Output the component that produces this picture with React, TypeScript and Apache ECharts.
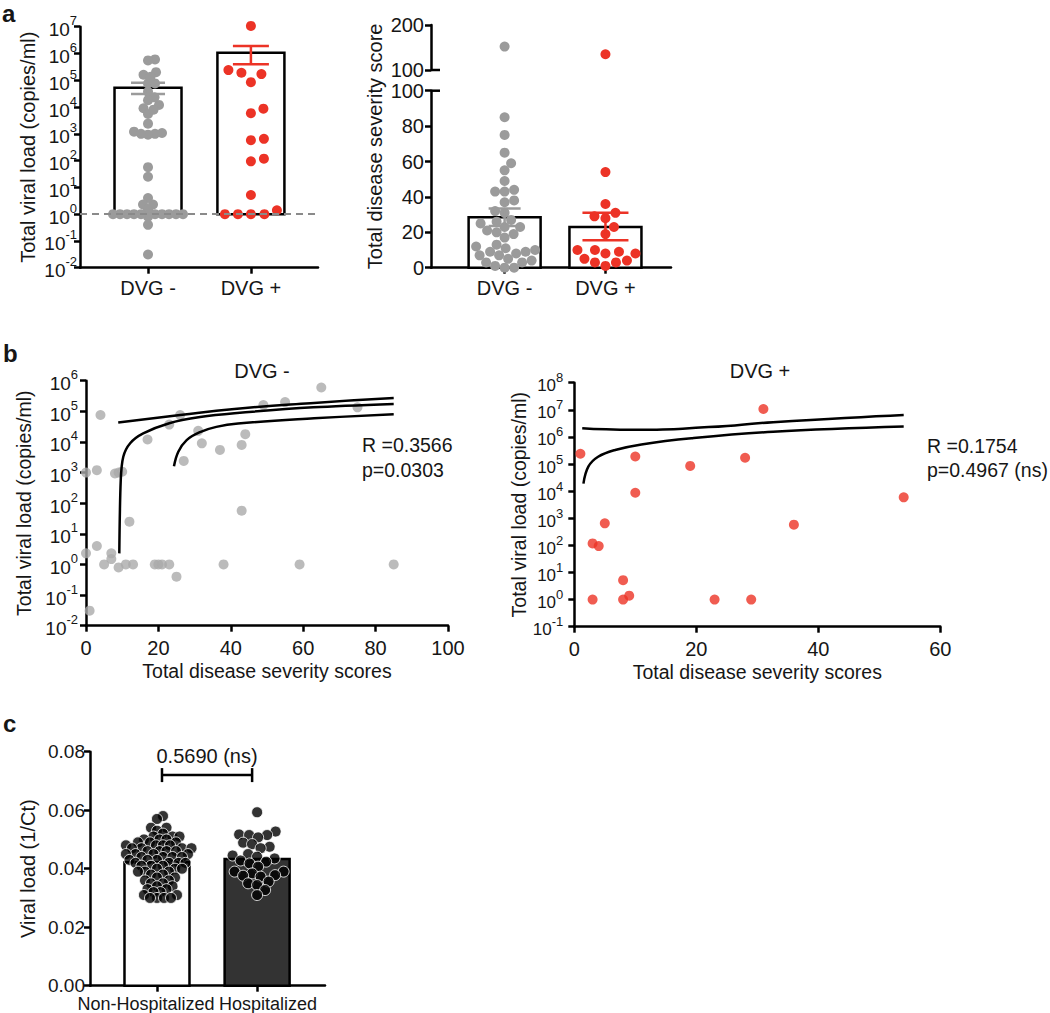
import React, { useEffect, useRef } from 'react';
import * as echarts from 'echarts';

const FF = '"Liberation Sans", Arial, Helvetica, sans-serif';
const INK = '#161616';
const GREY = '#9b9b9b';
const GREY_B = '#aaaaaa';
const RED = '#ec3326';
const DARK = '#333333';

// ---------------- data ----------------
const groupNames = ['DVG -', 'DVG +'];
const hospNames = ['Non-Hospitalized', 'Hospitalized'];

// DVG- : severity score and total viral load per patient
const negScore = [4, 0, 3, 8, 9, 10, 0, 3, 5, 7, 7, 9, 11, 13, 12, 1, 17, 23, 26, 27, 31, 32, 37, 43, 44, 43, 19, 20, 21, 23, 25, 38, 49, 55, 65, 75, 59, 85];
const negLoad = [7.6e4, 1000, 1200, 930, 1000, 1070, 2.3, 4, 1, 2.3, 1.5, 0.8, 1, 1, 25, 0.031, 1.2e4, 3.7e4, 7.6e4, 2.4e3, 2.3e4, 9e3, 5.5e3, 8e3, 1.8e4, 57, 1, 1, 1, 1, 0.4, 1, 1.6e5, 2e5, 6e5, 1.35e5, 1, 1];
const negExtraScore = [152];
const negExtraLoad = [5.5e5];
// DVG+
const posScore = [1, 10, 19, 28, 31, 10, 54, 5, 36, 3, 4, 8, 8, 9, 3, 23, 29];
const posLoad = [2.4e5, 1.9e5, 8.5e4, 1.7e5, 1.07e7, 8.7e3, 5.9e3, 650, 580, 118, 94, 5.2, 1, 1.4, 1, 1, 1];
const posExtraScore = [135];

const loadMean = [5.3e4, 1.07e6];
const loadSemLow = [3.1e4, 4.0e5];
const loadSemHigh = [8.0e4, 1.9e6];
const scoreMean = [28.5, 23];
const scoreSemLow = [23.5, 15.5];
const scoreSemHigh = [33.5, 31];

// regression curves
const negFitX = [9.2, 9.6, 10.3, 12.2, 15.8, 23, 31.5, 41, 62.8, 85];
const negFitY = [2.3, 570, 3300, 9100, 1.9e4, 4.1e4, 6.5e4, 8.7e4, 1.35e5, 1.74e5];
const negUpX = [8.9, 26, 41, 62, 85];
const negUpY = [4.3e4, 7.6e4, 1.2e5, 1.85e5, 2.7e5];
const negLoX = [24.3, 25.5, 27.8, 31.5, 36, 42, 63, 85];
const negLoY = [1.6e3, 4.8e3, 1.15e4, 2.1e4, 3.1e4, 4.0e4, 5.9e4, 8.1e4];
const posFitX = [1.5, 2.3, 3.9, 6.7, 11, 19.2, 32.6, 54];
const posFitY = [1.9e4, 8.0e4, 1.85e5, 3.3e5, 5.3e5, 8.9e5, 1.55e6, 2.4e6];
const posUpX = [1.3, 10, 22, 32.6, 54];
const posUpY = [2.1e6, 1.85e6, 2.3e6, 3.5e6, 6.5e6];

const statsNeg = ['R =0.3566', 'p=0.0303'];
const statsPos = ['R =0.1754', 'p=0.4967 (ns)'];

// panel c
const nonHosp = [0.058, 0.057, 0.054, 0.054, 0.053, 0.052, 0.051, 0.051, 0.051, 0.050, 0.050, 0.050, 0.049, 0.049, 0.049, 0.048, 0.048, 0.048, 0.048, 0.047, 0.047, 0.047, 0.047, 0.046, 0.046, 0.046, 0.046, 0.045, 0.045, 0.045, 0.045, 0.044, 0.044, 0.044, 0.044, 0.043, 0.043, 0.043, 0.042, 0.042, 0.042, 0.042, 0.041, 0.041, 0.041, 0.040, 0.040, 0.040, 0.039, 0.039, 0.039, 0.038, 0.038, 0.037, 0.037, 0.036, 0.036, 0.035, 0.035, 0.034, 0.034, 0.033, 0.033, 0.032, 0.032, 0.031, 0.031, 0.030, 0.030, 0.030, 0.030];
const hosp = [0.0593, 0.0527, 0.0517, 0.0515, 0.0515, 0.0507, 0.0489, 0.0484, 0.0475, 0.047, 0.045, 0.0445, 0.0441, 0.0435, 0.0428, 0.0424, 0.0418, 0.0407, 0.039, 0.039, 0.0384, 0.0378, 0.0376, 0.0373, 0.0356, 0.035, 0.0344, 0.0327, 0.031];
const hospMean = [0.0422, 0.0433];
const hospP = '0.5690 (ns)';
const hospBracketY = 0.072;

// ---------------- helpers ----------------
const AX_LINE = { show: true, onZero: false, lineStyle: { color: '#000', width: 2.5 } };
const AX_TICK = { show: true, length: 6, lineStyle: { color: '#000', width: 2.5 } };

function logAxis(grid: number, min: number, max: number, size: number, sup: number, raise: number, margin: number, extra: any = {}) {
  return {
    gridIndex: grid, type: 'log', logBase: 10, min, max,
    axisLine: AX_LINE, axisTick: AX_TICK, splitLine: { show: false }, minorTick: { show: false },
    axisLabel: {
      margin,
      formatter: (v: number) => `{b|10}{s|${Math.round(Math.log10(v))}}`,
      rich: {
        b: { fontSize: size, fontFamily: FF, color: INK, lineHeight: size + 6, verticalAlign: 'bottom' },
        s: { fontSize: sup, fontFamily: FF, color: INK, lineHeight: raise, verticalAlign: 'top' },
      },
    },
    ...extra,
  };
}

function catXAxis(grid: number, min: number, max: number, names: string[], size: number, margin: number, extra: any = {}) {
  return {
    gridIndex: grid, type: 'value', min, max,
    axisLine: AX_LINE, splitLine: { show: false },
    axisTick: { ...AX_TICK, customValues: [1, 2] },
    axisLabel: {
      customValues: [1, 2], margin, fontSize: size, fontFamily: FF, color: INK,
      formatter: (v: number) => names[Math.round(v) - 1] ?? '',
    },
    ...extra,
  };
}

function barRender(base: number, halfW: number, fills: string[]) {
  return (params: any, api: any) => {
    const x = api.value(0), m = api.value(1);
    const top = api.coord([x, m]);
    const bot = api.coord([x, base]);
    return {
      type: 'rect',
      shape: { x: top[0] - halfW, y: top[1], width: halfW * 2, height: bot[1] - top[1] },
      style: { fill: fills[params.dataIndex], stroke: '#000', lineWidth: 2.5 },
    };
  };
}

function errRender(halfCaps: number[], colors: string[]) {
  return (params: any, api: any) => {
    const x = api.value(0), lo = api.value(1), hi = api.value(2);
    const a = api.coord([x, lo]), b = api.coord([x, hi]);
    const h = halfCaps[params.dataIndex];
    const st = { stroke: colors[params.dataIndex], lineWidth: 2.5 };
    return {
      type: 'group', children: [
        { type: 'line', shape: { x1: a[0], y1: a[1], x2: b[0], y2: b[1] }, style: st },
        { type: 'line', shape: { x1: a[0] - h, y1: a[1], x2: a[0] + h, y2: a[1] }, style: st },
        { type: 'line', shape: { x1: b[0] - h, y1: b[1], x2: b[0] + h, y2: b[1] }, style: st },
      ],
    };
  };
}

function curve(id: string, xi: number, yi: number, xs: number[], ys: number[], smooth = 0.5) {
  return {
    id, type: 'line', xAxisIndex: xi, yAxisIndex: yi, data: xs.map((x, i) => [x, ys[i]]),
    showSymbol: false, symbol: 'none', smooth,
    lineStyle: { color: '#000', width: 2.5 }, z: 4, clip: false,
  };
}

const aLeftNeg = negLoad.concat(negExtraLoad);
const aRightNeg = negScore.concat(negExtraScore);
const aRightPos = posScore.concat(posExtraScore);

const XR_AL: [number, number] = [0.339, 2.652];
const XR_AR: [number, number] = [0.27, 2.65];
const XR_C: [number, number] = [0.331, 2.678];

function buildOption() {
  const grids = [
    { left: 80, top: 26.7, width: 238, height: 241 },
    { left: 431, top: 90.7, width: 240, height: 177 },
    { left: 431, top: 25, width: 240, height: 45 },
    { left: 86, top: 380.7, width: 362, height: 245 },
    { left: 574.3, top: 382.7, width: 366, height: 244 },
    { left: 90, top: 751.7, width: 235, height: 234 },
  ].map((g) => ({ ...g, outerBoundsMode: 'none', containLabel: false }));

  const nameStyle = (size: number) => ({ fontSize: size, fontFamily: FF, color: INK });

  const xAxis = [
    catXAxis(0, XR_AL[0], XR_AL[1], groupNames, 20, 10),
    catXAxis(1, XR_AR[0], XR_AR[1], groupNames, 20, 10),
    { gridIndex: 2, type: 'value', min: XR_AR[0], max: XR_AR[1], show: false },
    {
      gridIndex: 3, type: 'value', min: 0, max: 100, interval: 20,
      axisLine: AX_LINE, axisTick: AX_TICK, splitLine: { show: false },
      axisLabel: { fontSize: 20, fontFamily: FF, color: INK, margin: 12 },
      name: 'Total disease severity scores', nameLocation: 'middle', nameGap: 35, nameTextStyle: nameStyle(19.5),
    },
    {
      gridIndex: 4, type: 'value', min: 0, max: 60, interval: 20,
      axisLine: AX_LINE, axisTick: AX_TICK, splitLine: { show: false },
      axisLabel: { fontSize: 20, fontFamily: FF, color: INK, margin: 12 },
      name: 'Total disease severity scores', nameLocation: 'middle', nameGap: 35, nameTextStyle: nameStyle(19.5),
    },
    {
      ...catXAxis(5, XR_C[0], XR_C[1], hospNames, 18, 9),
      axisLabel: {
        customValues: [1, 2], margin: 9, interval: 0, hideOverlap: false,
        formatter: (v: number) => (Math.round(v) === 1 ? `{l|${hospNames[0]}}` : `{r|${hospNames[1]}}`),
        rich: {
          l: { fontSize: 18, fontFamily: FF, color: INK, padding: [0, 22, 0, 0] },
          r: { fontSize: 18, fontFamily: FF, color: INK, padding: [0, 0, 0, 22] },
        },
      },
    },
  ];

  const yAxis = [
    logAxis(0, 0.01, 1e7, 19, 13, 10, 3, {
      name: 'Total viral load (copies/ml)', nameLocation: 'middle', nameGap: 42, nameTextStyle: nameStyle(20),
    }),
    {
      gridIndex: 1, type: 'value', min: 0, max: 100, interval: 20,
      axisLine: AX_LINE, axisTick: AX_TICK, splitLine: { show: false },
      axisLabel: { fontSize: 20, fontFamily: FF, color: INK, margin: 7 },
    },
    {
      gridIndex: 2, type: 'value', min: 100, max: 200, interval: 100,
      axisLine: AX_LINE, axisTick: AX_TICK, splitLine: { show: false },
      axisLabel: { fontSize: 20, fontFamily: FF, color: INK, margin: 7 },
    },
    logAxis(3, 0.01, 1e6, 19, 13, 10, 8, {
      name: 'Total viral load (copies/ml)', nameLocation: 'middle', nameGap: 52, nameTextStyle: nameStyle(19.5),
    }),
    logAxis(4, 0.1, 1e8, 17, 13, 12, 11, {
      name: 'Total viral load (copies/ml)', nameLocation: 'middle', nameGap: 45, nameTextStyle: nameStyle(19.5),
    }),
    {
      gridIndex: 5, type: 'value', min: 0, max: 0.08, interval: 0.02,
      axisLine: AX_LINE, axisTick: AX_TICK, splitLine: { show: false },
      axisLabel: { fontSize: 19, fontFamily: FF, color: INK, margin: 5, formatter: (v: number) => v.toFixed(2) },
      name: 'Viral load (1/Ct)', nameLocation: 'middle', nameGap: 52, nameTextStyle: nameStyle(20),
    },
  ];

  const scat = (id: string, xi: number, yi: number, cx: number, vals: number[], color: string, size: number, extra: any = {}) => ({
    id, type: 'scatter', xAxisIndex: xi, yAxisIndex: yi, data: vals.map((v) => [cx, v]),
    symbolSize: size, itemStyle: { color, opacity: 1 }, z: 3, clip: false, ...extra,
  });

  const series: any[] = [
    // ----- panel a left -----
    {
      id: 'aL-bars', type: 'custom', xAxisIndex: 0, yAxisIndex: 0, z: 2,
      data: loadMean.map((m, i) => [i + 1, m]),
      renderItem: barRender(1, 33.5, ['#fff', '#fff']),
      markLine: {
        silent: true, symbol: ['none', 'none'], label: { show: false },
        lineStyle: { type: [7, 5], color: '#8a8a8a', width: 2 },
        data: [{ yAxis: 1 }],
      },
    },
    scat('aL-neg', 0, 0, 1, aLeftNeg, GREY, 10),
    scat('aL-pos', 0, 0, 2, posLoad, RED, 10),
    {
      id: 'aL-err', type: 'custom', xAxisIndex: 0, yAxisIndex: 0, z: 5,
      data: loadMean.map((_, i) => [i + 1, loadSemLow[i], loadSemHigh[i]]),
      renderItem: errRender([17, 18], [GREY, RED]),
    },
    // ----- panel a right -----
    {
      id: 'aR-bars', type: 'custom', xAxisIndex: 1, yAxisIndex: 1, z: 2,
      data: scoreMean.map((m, i) => [i + 1, m]),
      renderItem: barRender(0, 36, ['#fff', '#fff']),
    },
    scat('aR-neg', 1, 1, 1, aRightNeg.filter((v) => v <= 100), GREY, 10),
    scat('aR-pos', 1, 1, 2, aRightPos.filter((v) => v <= 100), RED, 10),
    scat('aR-negTop', 2, 2, 1, aRightNeg.filter((v) => v > 100), GREY, 10),
    scat('aR-posTop', 2, 2, 2, aRightPos.filter((v) => v > 100), RED, 10),
    {
      id: 'aR-err', type: 'custom', xAxisIndex: 1, yAxisIndex: 1, z: 5,
      data: scoreMean.map((_, i) => [i + 1, scoreSemLow[i], scoreSemHigh[i]]),
      renderItem: errRender([16, 23], [GREY, RED]),
    },
    // ----- panel b left -----
    {
      id: 'bL', type: 'scatter', xAxisIndex: 3, yAxisIndex: 3, data: negScore.map((s, i) => [s, negLoad[i]]),
      symbolSize: 10, itemStyle: { color: GREY_B }, z: 3, clip: false,
    },
    curve('bL-fit', 3, 3, negFitX, negFitY, 0.3),
    curve('bL-up', 3, 3, negUpX, negUpY),
    curve('bL-lo', 3, 3, negLoX, negLoY, 0.4),
    // ----- panel b right -----
    {
      id: 'bR', type: 'scatter', xAxisIndex: 4, yAxisIndex: 4, data: posScore.map((s, i) => [s, posLoad[i]]),
      symbolSize: 10, itemStyle: { color: RED }, z: 3, clip: false,
    },
    curve('bR-fit', 4, 4, posFitX, posFitY, 0.4),
    curve('bR-up', 4, 4, posUpX, posUpY, 0.6),
    // ----- panel c -----
    {
      id: 'c-bars', type: 'custom', xAxisIndex: 5, yAxisIndex: 5, z: 2,
      data: hospMean.map((m, i) => [i + 1, m]),
      renderItem: barRender(0, 32.5, ['#fff', DARK]),
    },
    scat('c-non', 5, 5, 1, nonHosp, '#000', 11, { itemStyle: { color: '#000', borderColor: '#fff', borderWidth: 1 } }),
    scat('c-hosp', 5, 5, 2, hosp, '#000', 11, { itemStyle: { color: '#000', borderColor: '#fff', borderWidth: 1 } }),
    {
      id: 'c-bracket', type: 'custom', xAxisIndex: 5, yAxisIndex: 5, z: 5,
      data: [[1, hospBracketY, 2]],
      renderItem: (params: any, api: any) => {
        const a = api.coord([api.value(0), api.value(1)]);
        const b = api.coord([api.value(2), api.value(1)]);
        const x1 = a[0] + 5, x2 = b[0] - 5, y = a[1];
        const st = { stroke: '#000', lineWidth: 2.5 };
        return {
          type: 'group', children: [
            { type: 'line', shape: { x1, y1: y, x2, y2: y }, style: st },
            { type: 'line', shape: { x1, y1: y - 7, x2: x1, y2: y + 7 }, style: st },
            { type: 'line', shape: { x1: x2, y1: y - 7, x2, y2: y + 7 }, style: st },
            { type: 'text', x: (x1 + x2) / 2, y: y - 19, style: { text: hospP, fill: INK, font: `20px ${FF}`, align: 'center', verticalAlign: 'middle' } },
          ],
        };
      },
    },
  ];

  return { animation: false, backgroundColor: '#fff', grid: grids, xAxis, yAxis, series };
}

function swarm(chart: any, gridIndex: number, cx: number, values: number[], minDist: number) {
  const pts = values.map((v, i) => {
    const p = chart.convertToPixel({ gridIndex }, [cx, v]) as number[];
    return { i, px: p[0], py: p[1] };
  });
  const order = pts.slice().sort((a, b) => b.py - a.py);
  const placed: { x: number; y: number }[] = [];
  const out: number[] = new Array(values.length);
  for (const p of order) {
    let chosen = 0;
    for (let k = 0; k <= 400; k++) {
      const off = k === 0 ? 0 : (k % 2 ? 1 : -1) * Math.ceil(k / 2) * 0.5;
      const x = p.px + off;
      let ok = true;
      for (const q of placed) {
        const dx = q.x - x, dy = q.y - p.py;
        if (dx * dx + dy * dy < minDist * minDist) { ok = false; break; }
      }
      if (ok) { chosen = off; break; }
    }
    placed.push({ x: p.px + chosen, y: p.py });
    out[p.i] = (chart.convertFromPixel({ gridIndex }, [p.px + chosen, p.py]) as number[])[0];
  }
  return out;
}

export default function App() {
  const ref = useRef<HTMLDivElement>(null);
  useEffect(() => {
    const chart = echarts.init(ref.current!, null, { renderer: 'svg' });
    chart.setOption(buildOption() as any);

    const specs = [
      { id: 'aL-neg', grid: 0, cx: 1, values: aLeftNeg, d: 7 },
      { id: 'aL-pos', grid: 0, cx: 2, values: posLoad, d: 13 },
      { id: 'aR-neg', grid: 1, cx: 1, values: aRightNeg.filter((v) => v <= 100), d: 9.5 },
      { id: 'aR-pos', grid: 1, cx: 2, values: aRightPos.filter((v) => v <= 100), d: 11 },
      { id: 'aR-negTop', grid: 2, cx: 1, values: aRightNeg.filter((v) => v > 100), d: 10 },
      { id: 'aR-posTop', grid: 2, cx: 2, values: aRightPos.filter((v) => v > 100), d: 10 },
      { id: 'c-non', grid: 5, cx: 1, values: nonHosp, d: 6.6 },
      { id: 'c-hosp', grid: 5, cx: 2, values: hosp, d: 9 },
    ];
    const upd = specs.map((s) => {
      const xs = swarm(chart, s.grid, s.cx, s.values, s.d);
      return { id: s.id, data: s.values.map((v, i) => [xs[i], v]) };
    });

    // break marks on the split axis of panel a right
    const axX = (chart.convertToPixel({ gridIndex: 1 }, [XR_AR[0], 100]) as number[])[0];
    const yb = (chart.convertToPixel({ gridIndex: 1 }, [XR_AR[0], 100]) as number[])[1];
    const yt = (chart.convertToPixel({ gridIndex: 2 }, [XR_AR[0], 100]) as number[])[1];
    const ayTop = (chart.convertToPixel({ gridIndex: 2 }, [XR_AR[0], 200]) as number[])[1];
    const ayBot = (chart.convertToPixel({ gridIndex: 1 }, [XR_AR[0], 0]) as number[])[1];

    const txt = (id: string, x: number, y: number, text: string, size: number, align = 'left', extra: any = {}) => ({
      id, type: 'text', x, y, z: 10,
      style: { text, fill: INK, font: `${extra.weight || 'normal'} ${size}px ${FF}`, align, verticalAlign: 'middle' },
      ...(extra.rotation ? { rotation: extra.rotation } : {}),
    });

    chart.setOption({
      series: upd,
      graphic: [
        { id: 'brk1', type: 'line', z: 10, shape: { x1: axX, y1: yt, x2: axX + 9, y2: yt }, style: { stroke: '#000', lineWidth: 2.5 } },
        { id: 'brk2', type: 'line', z: 10, shape: { x1: axX, y1: yb, x2: axX + 9, y2: yb }, style: { stroke: '#000', lineWidth: 2.5 } },
        txt('lblA', 2, 13, 'a', 24, 'left', { weight: 'bold' }),
        txt('lblB', 3, 353, 'b', 24, 'left', { weight: 'bold' }),
        txt('lblC', 3, 723, 'c', 24, 'left', { weight: 'bold' }),
        txt('ttlN', 262, 371, groupNames[0], 20, 'center'),
        txt('ttlP', 760, 371, groupNames[1], 20, 'center'),
        txt('rN', 362, 445, statsNeg[0], 19.5),
        txt('pN', 362, 470, statsNeg[1], 19.5),
        txt('rP', 927, 446, statsPos[0], 19.5),
        txt('pP', 927, 470, statsPos[1], 19.5),
        txt('aRname', axX - 56, (ayTop + ayBot) / 2, 'Total disease severity score', 20, 'center', { rotation: Math.PI / 2 }),
      ],
    } as any);

    return () => chart.dispose();
  }, []);
  return <div ref={ref} style={{ position: 'absolute', left: 0, top: 0, width: 1050, height: 1013 }} />;
}
